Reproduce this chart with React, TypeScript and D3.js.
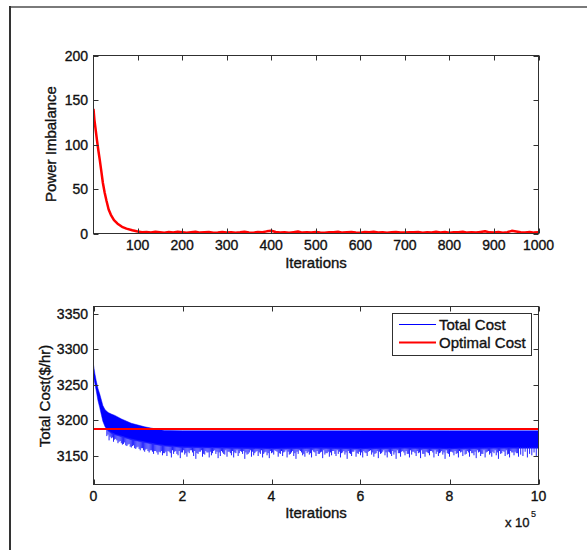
import React from 'react';
import * as d3 from 'd3';

// ---------- Data ----------
// Top panel: power imbalance vs iterations
const imbIter = [1, 3, 6, 9, 12, 15, 18, 22, 26, 30, 35, 40, 47, 55, 65, 75, 88, 100];
const imbVal = [140, 128, 116, 104, 93, 83, 72, 57, 46, 37, 27, 21, 15, 11, 7.5, 5.5, 3.7, 2.2];
// tail values, iterations 110..1000 every 10
const imbTail = [
  1.5, 1.8, 1.2, 2.0, 1.4, 0.9, 1.6, 1.1, 1.9,
  1.3, 0.8, 1.5, 2.1, 1.0, 1.4, 1.7, 0.9, 1.2, 1.8,
  1.1, 1.5, 0.8, 1.3, 2.0, 1.2, 0.9, 1.6, 1.4, 2.4,
  3.0, 1.7, 1.1, 1.3, 0.9, 1.5, 2.2, 1.0, 1.4, 1.2,
  1.8, 1.1, 0.8, 1.5, 1.3, 1.9, 1.0, 1.4, 1.7, 1.2,
  0.9, 1.6, 1.3, 2.0, 1.1, 1.5, 0.8, 1.4, 1.8, 1.2,
  1.0, 1.5, 1.3, 1.7, 0.9, 1.4, 1.2, 1.9, 1.1, 1.6,
  0.8, 1.3, 1.5, 2.1, 1.0, 1.4, 1.2, 1.8, 2.5, 1.3,
  1.1, 1.6, 0.9, 1.4, 3.0, 2.2, 1.5, 1.2, 1.8, 1.0,
  1.3,
];
const topXTicks = [100, 200, 300, 400, 500, 600, 700, 800, 900, 1000];
const topYTicks = [0, 50, 100, 150, 200];

// Bottom panel: total cost (x in units of 1e5 iterations)
const costX = [0, 0.03, 0.06, 0.1, 0.14, 0.18, 0.21, 0.26, 0.33, 0.4, 0.48, 0.63, 0.85, 1.15, 1.4, 1.6, 2, 3, 4, 5, 6, 7, 8, 9, 10];
const costUpper = [3278, 3266, 3256, 3245, 3237, 3228, 3221, 3215, 3211, 3209, 3207, 3202, 3196, 3191, 3188, 3186, 3185.5, 3185.5, 3185.5, 3185.5, 3185.5, 3185.5, 3185.5, 3185.5, 3185.5];
const costLower = [3262, 3252, 3242, 3228, 3218, 3207, 3199, 3191, 3185, 3182, 3180, 3177, 3173, 3169, 3166, 3164, 3162, 3161, 3160, 3161, 3160, 3161, 3160, 3161, 3161];
// long downward noise spikes, from x = 0.3 every 0.05
const spikeLow = [
  3178, 3172, 3175, 3170, 3174, 3168, 3171, 3166, 3169, 3164, 3167, 3162, 3165, 3160, 3163, 3158, 3161, 3156, 3160, 3155, 3158, 3153, 3157, 3152, 3155, 3151, 3154,
  3150, 3156, 3148, 3153, 3157, 3151, 3147, 3155, 3152, 3149,
  3154, 3158, 3150, 3146, 3153, 3156, 3149, 3152, 3155, 3148,
  3151, 3157, 3153, 3147, 3150, 3155, 3152, 3149, 3156, 3151,
  3148, 3154, 3150, 3157, 3153, 3146, 3152, 3155, 3149, 3151,
  3156, 3150, 3153, 3148, 3155, 3151, 3147, 3154, 3152, 3157,
  3149, 3153, 3150, 3156, 3148, 3152, 3155, 3150, 3146, 3153,
  3157, 3151, 3149, 3154, 3152, 3148, 3156, 3150, 3153, 3155,
  3147, 3152, 3154, 3149, 3151, 3157, 3150, 3153, 3148, 3155,
  3152, 3146, 3154, 3150, 3156, 3149, 3153, 3151, 3148, 3155,
  3150, 3157, 3152, 3149, 3154, 3147, 3153, 3156, 3151, 3148,
  3155, 3150, 3152, 3146, 3154, 3149, 3157, 3151, 3153, 3148,
  3152, 3156, 3150, 3154, 3147, 3153, 3149, 3155, 3151, 3157,
  3148, 3153, 3150, 3155, 3152, 3146, 3154, 3149, 3156, 3151,
  3153, 3148, 3155, 3150, 3152, 3157, 3149, 3154, 3151, 3147,
  3155, 3150, 3153, 3148, 3156, 3152, 3149, 3154, 3151, 3146,
  3153, 3157, 3150, 3152, 3148, 3155, 3151, 3154, 3149, 3152,
  3150, 3156, 3148, 3153, 3151, 3155, 3149, 3152,
];
// short noise spikes in between, from x = 0.325 every 0.05
const spikeShort = [
  3180, 3177, 3176, 3173, 3172, 3170, 3168, 3167, 3165, 3166, 3163, 3164, 3161, 3162, 3160, 3161, 3158, 3159, 3157, 3158, 3156, 3157, 3155, 3156, 3157, 3154, 3156,
  3157, 3154, 3158, 3156, 3153, 3157, 3155, 3158, 3154, 3156,
  3158, 3155, 3157, 3154, 3156, 3158, 3153, 3157, 3155, 3156,
  3154, 3158, 3156, 3155, 3157, 3153, 3158, 3156, 3154, 3157,
  3155, 3158, 3154, 3156, 3157, 3155, 3153, 3158, 3156, 3154,
  3157, 3155, 3158, 3153, 3156, 3154, 3157, 3155, 3158, 3156,
  3154, 3157, 3155, 3158, 3156, 3153, 3157, 3154, 3156, 3158,
  3155, 3153, 3157, 3156, 3154, 3158, 3155, 3157, 3153, 3156,
  3158, 3154, 3156, 3155, 3157, 3153, 3158, 3156, 3154, 3157,
  3155, 3157, 3153, 3156, 3158, 3154, 3156, 3155, 3157, 3154,
  3156, 3158, 3155, 3153, 3157, 3156, 3154, 3158, 3155, 3156,
  3153, 3157, 3155, 3158, 3154, 3156, 3155, 3157, 3153, 3158,
  3156, 3154, 3157, 3155, 3158, 3153, 3156, 3154, 3157, 3155,
  3158, 3156, 3154, 3157, 3155, 3158, 3153, 3156, 3155, 3157,
  3154, 3157, 3156, 3158, 3153, 3155, 3157, 3154, 3156, 3158,
  3156, 3153, 3158, 3155, 3157, 3154, 3156, 3158, 3155, 3157,
  3154, 3156, 3158, 3153, 3157, 3155, 3156, 3154,
];
const spikeStart = 0.3;
const spikeStep = 0.05;
const optimalCost = 3188;
const botXTicks = [0, 2, 4, 6, 8, 10];
const botYTicks = [3150, 3200, 3250, 3300, 3350];
const legendLabels = ['Total Cost', 'Optimal Cost'];

// ---------- Layout ----------
const W = 587;
const H = 550;
const FONT = 'Arimo, "Liberation Sans", Arial, Helvetica, sans-serif';
const AX = '#303030';
const TXT = '#111';
const TICK = 5;

const topX = d3.scaleLinear().domain([1, 1000]).range([93.5, 538.5]);
const topY = d3.scaleLinear().domain([0, 200]).range([233.5, 55.5]);
const botX = d3.scaleLinear().domain([0, 10]).range([93.5, 538.5]);
const botY = d3.scaleLinear().domain([3110, 3360]).range([484.5, 306.5]);

const textStyle = { fontFamily: FONT, fill: TXT, stroke: TXT, strokeWidth: 0.35 } as const;

function Frame({ x, y, xTicks, yTicks }: any) {
  const [x0, x1] = x.range();
  const [y0, y1] = y.range(); // y0 bottom, y1 top
  return (
    <g>
      <rect x={x0} y={y1} width={x1 - x0} height={y0 - y1} fill="none" stroke={AX} strokeWidth={1} />
      {xTicks.map((t: number) => (
        <g key={'x' + t}>
          <line x1={Math.round(x(t)) + 0.5} x2={Math.round(x(t)) + 0.5} y1={y0} y2={y0 - TICK} stroke={AX} />
          <line x1={Math.round(x(t)) + 0.5} x2={Math.round(x(t)) + 0.5} y1={y1} y2={y1 + TICK} stroke={AX} />
        </g>
      ))}
      {yTicks.map((t: number) => (
        <g key={'y' + t}>
          <line x1={x0} x2={x0 + TICK} y1={Math.round(y(t)) + 0.5} y2={Math.round(y(t)) + 0.5} stroke={AX} />
          <line x1={x1} x2={x1 - TICK} y1={Math.round(y(t)) + 0.5} y2={Math.round(y(t)) + 0.5} stroke={AX} />
        </g>
      ))}
    </g>
  );
}

function Labels({ x, y, xTicks, yTicks, xLabelY }: any) {
  const [x0] = x.range();
  return (
    <g style={textStyle} fontSize={14}>
      {xTicks.map((t: number) => (
        <text key={'xl' + t} x={x(t)} y={xLabelY} textAnchor="middle">{t}</text>
      ))}
      {yTicks.map((t: number) => (
        <text key={'yl' + t} x={x0 - 5.5} y={y(t)} dy="0.36em" textAnchor="end">{t}</text>
      ))}
    </g>
  );
}

export default function App() {
  const topPts: [number, number][] = imbIter.map((it, i) => [it, imbVal[i]]);
  imbTail.forEach((v, i) => topPts.push([110 + i * 10, v]));
  const topLine = d3.line<[number, number]>().x((d) => topX(d[0])).y((d) => topY(d[1]))(topPts) || '';

  const band = d3
    .area<number>()
    .x((_, i) => botX(costX[i]))
    .y0((_, i) => botY(costLower[i]))
    .y1((_, i) => botY(costUpper[i]))(costX) || '';
  const lowerAt = (xv: number) => {
    const i = d3.bisectLeft(costX, xv);
    if (i <= 0) return costLower[0];
    if (i >= costX.length) return costLower[costX.length - 1];
    const t = (xv - costX[i - 1]) / (costX[i] - costX[i - 1]);
    return costLower[i - 1] + t * (costLower[i] - costLower[i - 1]);
  };

  return (
    <svg width={W} height={H} style={{ position: 'absolute', left: 0, top: 0, background: '#fff' }}>
      <rect x={0} y={0} width={W} height={H} fill="#fff" />
      {/* outer figure frame */}
      <line x1={9} x2={W} y1={7} y2={7} stroke="#7a7a7a" strokeWidth={2} />
      <line x1={10} x2={10} y1={6} y2={H} stroke="#333" strokeWidth={2} />

      <defs>
        <clipPath id="clipTop">
          <rect x={93.5} y={55} width={445} height={179} />
        </clipPath>
        <clipPath id="clipBot">
          <rect x={93.5} y={306} width={445} height={179} />
        </clipPath>
      </defs>

      {/* ---------- top panel ---------- */}
      <path d={topLine} fill="none" stroke="#ff0000" strokeWidth={2.5} strokeLinejoin="round" clipPath="url(#clipTop)" />
      <Frame x={topX} y={topY} xTicks={topXTicks} yTicks={topYTicks} />
      <Labels x={topX} y={topY} xTicks={topXTicks} yTicks={topYTicks} xLabelY={249.5} />
      <g style={textStyle} fontSize={15}>
        <text x={316} y={268} textAnchor="middle">Iterations</text>
        <text transform="translate(56,144) rotate(-90)" textAnchor="middle">Power Imbalance</text>
      </g>

      {/* ---------- bottom panel ---------- */}
      <g clipPath="url(#clipBot)">
        <path d={band} fill="#0000ff" stroke="#0000ff" strokeWidth={0.5} />
        {spikeLow.map((v, i) => {
          const xv = spikeStart + i * spikeStep;
          const px = botX(xv);
          return (
            <line key={'s' + i} x1={px} x2={px} y1={botY(lowerAt(xv)) - 1} y2={botY(v)} stroke="#2020ff" strokeWidth={1} />
          );
        })}
        {spikeShort.map((v, i) => {
          const xv = spikeStart + spikeStep / 2 + i * spikeStep;
          const px = botX(xv);
          return (
            <line key={'t' + i} x1={px} x2={px} y1={botY(lowerAt(xv)) - 1} y2={botY(v)} stroke="#2020ff" strokeWidth={1} />
          );
        })}
        <line x1={botX(0)} x2={botX(10)} y1={botY(optimalCost)} y2={botY(optimalCost)} stroke="#ff0000" strokeWidth={2} />
      </g>
      <Frame x={botX} y={botY} xTicks={botXTicks} yTicks={botYTicks} />
      <Labels x={botX} y={botY} xTicks={botXTicks} yTicks={botYTicks} xLabelY={501} />
      <g style={textStyle} fontSize={15}>
        <text x={316} y={518} textAnchor="middle">Iterations</text>
        <text transform="translate(50,396) rotate(-90)" textAnchor="middle">Total Cost($/hr)</text>
        <text x={505} y={526.5} fontSize={13}>x 10</text>
        <text x={531} y={517} fontSize={9} strokeWidth={0.2}>5</text>
      </g>

      {/* legend */}
      <g>
        <rect x={392.5} y={313.5} width={139} height={42} fill="#fff" stroke={AX} strokeWidth={1} />
        <line x1={399} x2={436} y1={324.5} y2={324.5} stroke="#0000ff" strokeWidth={1} />
        <line x1={399} x2={436} y1={342.5} y2={342.5} stroke="#ff0000" strokeWidth={2} />
        <g style={textStyle} fontSize={15}>
          <text x={439} y={329.5}>{legendLabels[0]}</text>
          <text x={439} y={348}>{legendLabels[1]}</text>
        </g>
      </g>
    </svg>
  );
}
